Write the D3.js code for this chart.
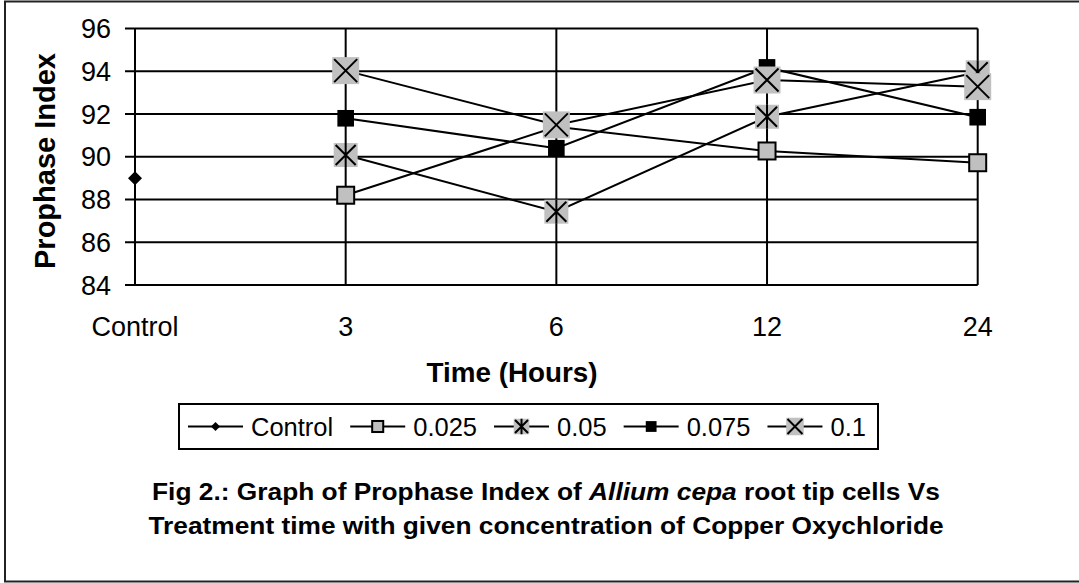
<!DOCTYPE html>
<html><head><meta charset="utf-8">
<script src="https://cdn.jsdelivr.net/npm/d3@7"></script>
<style>
body{margin:0;background:#fff;}
svg{display:block;font-family:"Liberation Sans",Arial,sans-serif;}
</style></head>
<body><svg id="c" width="1079" height="583"></svg>
<script>
const categories = ["Control","3","6","12","24"];
const yTicks = [84,86,88,90,92,94,96];
const seriesNames = ["Control","0.025","0.05","0.075","0.1"];
const controlVals = [89.0, null, null, null, null];
const c025Vals = [null, 88.2, 91.4, 90.27, 89.72];
const c05Vals  = [null, 90.08, 87.43, 91.87, 93.95];
const c075Vals = [null, 91.8, 90.4, 94.18, 91.85];
const c1Vals   = [null, 94.03, 91.49, 93.59, 93.28];
const seriesValues = [controlVals, c025Vals, c05Vals, c075Vals, c1Vals];
const markerTypes = ["diamond","square","star","solid","cross"];
const xTitle = "Time (Hours)";
const yTitle = "Prophase Index";

const svg = d3.select("#c");

// outer border
svg.append("rect").attr("x",5).attr("y",1.5).attr("width",1090).attr("height",580)
  .attr("fill","none").attr("stroke","#222").attr("stroke-width",2);

const x = d3.scalePoint().domain(categories).range([135, 977.7]);
const y = d3.scaleLinear().domain([84,96]).range([285, 28.5]);

const g = svg.append("g");
g.selectAll("line.h").data(yTicks).enter().append("line")
  .attr("x1",125).attr("x2",977.7).attr("y1",d=>y(d)).attr("y2",d=>y(d))
  .attr("stroke","#000").attr("stroke-width",2);
g.selectAll("line.v").data(categories).enter().append("line")
  .attr("x1",d=>x(d)).attr("x2",d=>x(d)).attr("y1",y(96)).attr("y2",y(84))
  .attr("stroke","#000").attr("stroke-width",2);

g.selectAll("text.yt").data(yTicks).enter().append("text")
  .attr("x",111).attr("y",d=>y(d)).attr("dy","0.36em")
  .attr("text-anchor","end").attr("font-size",27).text(d=>d);
g.selectAll("text.xt").data(categories).enter().append("text")
  .attr("x",d=>x(d)).attr("y",335.5).attr("text-anchor","middle")
  .attr("font-size",27).text(d=>d);
svg.append("text").attr("x",512).attr("y",381.5).attr("text-anchor","middle")
  .attr("font-size",27.8).attr("font-weight","bold").text(xTitle);
svg.append("text").attr("transform","translate(54.5,161) rotate(-90)")
  .attr("text-anchor","middle").attr("font-size",29).attr("font-weight","bold").text(yTitle);

function drawMarker(sel, type, scale){
  const s = scale || 1;
  if(type==="diamond"){
    const r=7*s;
    sel.append("path").attr("d",`M0,${-r}L${r},0L0,${r}L${-r},0Z`).attr("fill","#000");
  } else if(type==="square"){
    const h=8.5*s;
    sel.append("rect").attr("x",-h).attr("y",-h).attr("width",2*h).attr("height",2*h)
      .attr("fill","#c0c0c0").attr("stroke","#000").attr("stroke-width",2);
  } else if(type==="solid"){
    const h=8.3*s;
    sel.append("rect").attr("x",-h).attr("y",-h).attr("width",2*h).attr("height",2*h).attr("fill","#000");
  } else if(type==="star"){
    const h=12*s, k=10*s;
    sel.append("rect").attr("x",-h).attr("y",-h).attr("width",2*h).attr("height",2*h).attr("fill","#c0c0c0");
    sel.append("path").attr("d",`M${-k},${-k}L${k},${k}M${-k},${k}L${k},${-k}M0,${-h}L0,${h}`)
      .attr("stroke","#000").attr("stroke-width",2);
  } else if(type==="cross"){
    const h=13.5*s, k=11.5*s;
    sel.append("rect").attr("x",-h).attr("y",-h).attr("width",2*h).attr("height",2*h).attr("fill","#c0c0c0");
    sel.append("path").attr("d",`M${-k},${-k}L${k},${k}M${-k},${k}L${k},${-k}`)
      .attr("stroke","#000").attr("stroke-width",2);
  }
}

const line = d3.line().defined(d=>d.v!=null).x(d=>x(d.c)).y(d=>y(d.v));
seriesValues.forEach((vals,i)=>{
  const pts = categories.map((c,j)=>({c:c,v:vals[j]}));
  const sg = svg.append("g");
  sg.append("path").datum(pts).attr("d",line).attr("fill","none")
    .attr("stroke","#000").attr("stroke-width",2);
  pts.filter(p=>p.v!=null).forEach(p=>{
    const mg = sg.append("g").attr("transform",`translate(${x(p.c)},${y(p.v)})`);
    drawMarker(mg, markerTypes[i], 1);
  });
});

// legend
const lg = svg.append("g");
lg.append("rect").attr("x",179).attr("y",404).attr("width",699).attr("height",45)
  .attr("fill","#fff").attr("stroke","#000").attr("stroke-width",2);
let lx = 188; const ly = 426.5;
seriesNames.forEach((n,i)=>{
  const it = lg.append("g");
  it.append("line").attr("x1",lx).attr("x2",lx+55).attr("y1",ly).attr("y2",ly)
    .attr("stroke","#000").attr("stroke-width",2);
  const mg = it.append("g").attr("transform",`translate(${lx+27.5},${ly})`);
  drawMarker(mg, markerTypes[i], 0.65);
  const t = it.append("text").attr("x",lx+63).attr("y",ly).attr("dy","0.36em")
    .attr("font-size",25.5).text(n);
  lx = lx + 63 + t.node().getComputedTextLength() + 17;
});

// caption (slightly widened as in the reference)
const cap = svg.append("g").attr("transform","translate(546,0) scale(1.12,1)")
  .append("text").attr("text-anchor","middle").attr("font-weight","bold").attr("font-size",23.5);
const l1 = cap.append("tspan").attr("x",0).attr("y",500);
l1.append("tspan").text("Fig 2.: Graph of Prophase Index of ");
l1.append("tspan").attr("font-style","italic").text("Allium cepa");
l1.append("tspan").text(" root tip cells Vs");
cap.append("tspan").attr("x",0).attr("y",534).text("Treatment time with given concentration of Copper Oxychloride");
</script>
</body></html>
